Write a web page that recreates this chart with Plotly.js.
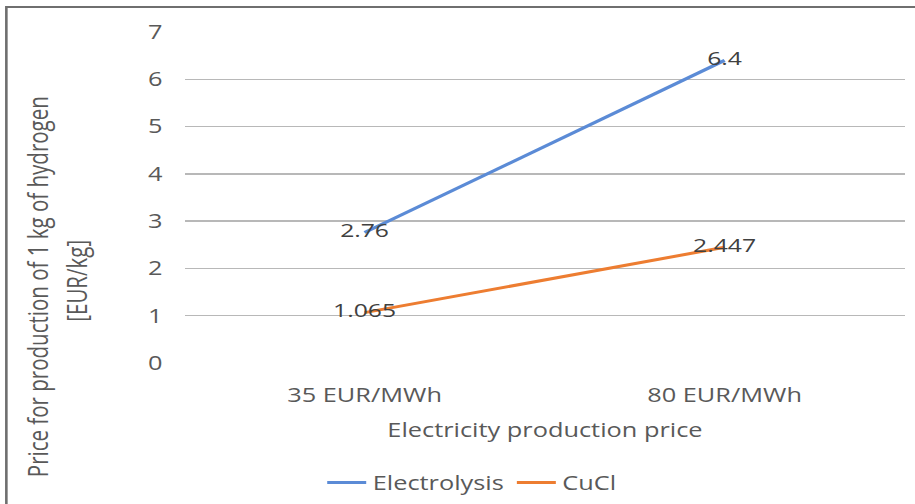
<!DOCTYPE html>
<html><head><meta charset="utf-8">
<script src="https://cdn.plot.ly/plotly-3.0.1.min.js"></script>
<style>
html,body{margin:0;padding:0;background:#fff;overflow:hidden;width:915px;height:504px}
#c{width:704px;height:504px;transform:scaleX(1.2997);transform-origin:0 0}
</style>
</head><body><div id="c"></div>
<script>
const categories = ["35 EUR/MWh", "80 EUR/MWh"];
const electrolysis = [2.76, 6.4];
const cucl = [1.065, 2.447];
const electrolysisLabels = ["2.76", "6.4"];
const cuclLabels = ["1.065", "2.447"];
const yTicks = [0, 1, 2, 3, 4, 5, 6, 7];
const xTitle = "Electricity production price";
const yTitleLine1 = "Price for production of 1 kg of hydrogen";
const yTitleLine2 = "[EUR/kg]";

const FONT = "'Open Sans', Lato, sans-serif";
const GREY = "#595959";
const traces = [
  {x: categories, y: electrolysis, name: "Electrolysis", type: "scatter", mode: "lines+text",
   text: electrolysisLabels, textposition: "middle center",
   textfont: {family: FONT, size: 19, color: "#404040"},
   line: {color: "#5B8BD6", width: 3}},
  {x: categories, y: cucl, name: "CuCl", type: "scatter", mode: "lines+text",
   text: cuclLabels, textposition: "middle center",
   textfont: {family: FONT, size: 19, color: "#404040"},
   line: {color: "#ED7D31", width: 3}}
];
const layout = {
  width: 704, height: 504,
  margin: {l: 142, r: 8, t: 32, b: 141},
  paper_bgcolor: "#fff", plot_bgcolor: "#fff",
  font: {family: FONT, size: 19, color: GREY},
  showlegend: true,
  legend: {orientation: "h", x: 0.516, xref: "container", xanchor: "center", y: 0.042, yref: "container", yanchor: "middle",
           bgcolor: "rgba(0,0,0,0)", font: {family: FONT, size: 19.5, color: GREY}, itemwidth: 30},
  xaxis: {type: "category", range: [-0.5, 1.5], showgrid: false, zeroline: false, showline: false,
          ticks: "", ticklabelstandoff: 19, tickfont: {family: FONT, size: 19.5, color: GREY}},
  yaxis: {range: [0, 7], tickvals: yTicks, showgrid: true, gridcolor: "#b8b8b8", gridwidth: 1.5,
          zeroline: false, showline: false, ticks: "", ticklabelstandoff: 16,
          tickfont: {family: FONT, size: 19.5, color: GREY}},
  annotations: [
    {text: xTitle, xref: "paper", yref: "paper", x: 0.5, y: -0.2024, xanchor: "center", yanchor: "middle",
     showarrow: false, font: {family: FONT, size: 19.5, color: GREY}},
    {text: yTitleLine1, xref: "paper", yref: "paper", x: -0.204, y: 0.232, xanchor: "center", yanchor: "middle",
     textangle: -90, showarrow: false, font: {family: FONT, size: 20.5, color: GREY}},
    {text: yTitleLine2, xref: "paper", yref: "paper", x: -0.149, y: 0.25, xanchor: "center", yanchor: "middle",
     textangle: -90, showarrow: false, font: {family: FONT, size: 20.5, color: GREY}}
  ],
  shapes: [{type: "rect", xref: "paper", yref: "paper", x0: -0.2475, x1: 2, y0: -1, y1: 1.0755,
            line: {color: "#6f6f6f", width: 2}, fillcolor: "rgba(0,0,0,0)", layer: "below"}]
};
Plotly.newPlot("c", traces, layout, {displayModeBar: false, staticPlot: true});
</script></body></html>
